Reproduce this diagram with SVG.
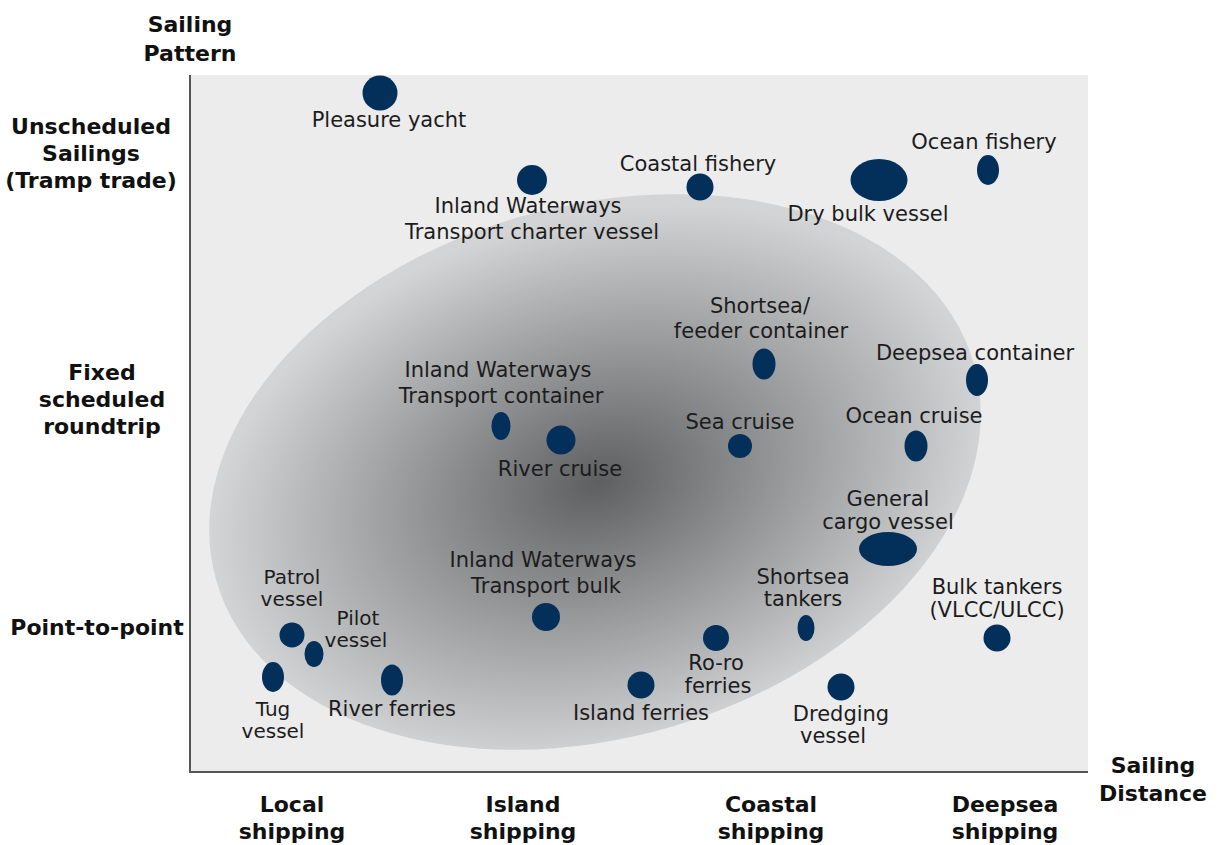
<svg xmlns="http://www.w3.org/2000/svg" width="1218" height="845" viewBox="0 0 1218 845">
<style>
.lbl{font-family:"DejaVu Sans","Liberation Sans",sans-serif;font-size:21px;fill:#1c1c1c;text-anchor:middle}
.sm{font-size:20px}
.ax{font-family:"DejaVu Sans","Liberation Sans",sans-serif;font-size:22px;font-weight:bold;fill:#111;text-anchor:middle}
.dot{fill:#02305a}
</style>
<defs>
<radialGradient id="g" cx="0.5" cy="0.52" r="0.5">
<stop offset="0" stop-color="#5e5f61"/>
<stop offset="0.5" stop-color="#999a9c"/>
<stop offset="1" stop-color="#d3d4d6"/>
</radialGradient>
</defs>
<rect width="1218" height="845" fill="#ffffff"/>
<rect id="plot" x="190" y="75" width="898" height="697" fill="#ececec"/>
<ellipse id="zone" cx="595" cy="472" rx="394" ry="266" transform="rotate(-16 595 472)" fill="url(#g)"/>
<g id="axes" stroke="#555" stroke-width="2" fill="none">
<line x1="190" y1="75" x2="190" y2="773"/>
<line x1="189" y1="772" x2="1088" y2="772"/>
</g>
<g id="axis-labels">
<text class="ax" x="190" y="32">Sailing</text>
<text class="ax" x="190" y="61">Pattern</text>
<text class="ax" x="91" y="134">Unscheduled</text>
<text class="ax" x="91" y="161">Sailings</text>
<text class="ax" x="91" y="188">(Tramp trade)</text>
<text class="ax" x="102" y="380">Fixed</text>
<text class="ax" x="102" y="407">scheduled</text>
<text class="ax" x="102" y="434">roundtrip</text>
<text class="ax" x="97" y="635">Point-to-point</text>
<text class="ax" x="1153" y="773">Sailing</text>
<text class="ax" x="1153" y="801">Distance</text>
<text class="ax" x="292" y="812">Local</text>
<text class="ax" x="292" y="839">shipping</text>
<text class="ax" x="523" y="812">Island</text>
<text class="ax" x="523" y="839">shipping</text>
<text class="ax" x="771" y="812">Coastal</text>
<text class="ax" x="771" y="839">shipping</text>
<text class="ax" x="1005" y="812">Deepsea</text>
<text class="ax" x="1005" y="839">shipping</text>
</g>
<g id="pleasure-yacht"><circle class="dot" cx="380" cy="93" r="17.5"/><text class="lbl" x="389" y="127">Pleasure yacht</text></g>
<g id="iwt-charter"><circle class="dot" cx="532" cy="180" r="15"/><text class="lbl" x="528" y="213">Inland Waterways</text><text class="lbl" x="532" y="239">Transport charter vessel</text></g>
<g id="coastal-fishery"><circle class="dot" cx="700" cy="187" r="13.5"/><text class="lbl" x="698" y="171">Coastal fishery</text></g>
<g id="dry-bulk"><ellipse class="dot" cx="879" cy="180" rx="28.5" ry="21"/><text class="lbl" x="868" y="221">Dry bulk vessel</text></g>
<g id="ocean-fishery"><ellipse class="dot" cx="988" cy="170" rx="11" ry="15"/><text class="lbl" x="984" y="149">Ocean fishery</text></g>
<g id="shortsea-feeder"><ellipse class="dot" cx="764" cy="364" rx="11.5" ry="15.5"/><text class="lbl" x="760" y="313">Shortsea/</text><text class="lbl" x="761" y="338">feeder container</text></g>
<g id="deepsea-container"><ellipse class="dot" cx="977" cy="380" rx="11" ry="16"/><text class="lbl" x="975" y="360">Deepsea container</text></g>
<g id="iwt-container"><ellipse class="dot" cx="501" cy="426" rx="9.5" ry="14"/><text class="lbl" x="498" y="377">Inland Waterways</text><text class="lbl" x="501" y="403">Transport container</text></g>
<g id="river-cruise"><circle class="dot" cx="561" cy="440" r="14.5"/><text class="lbl" x="560" y="476">River cruise</text></g>
<g id="sea-cruise"><circle class="dot" cx="740" cy="446" r="12"/><text class="lbl" x="740" y="429">Sea cruise</text></g>
<g id="ocean-cruise"><ellipse class="dot" cx="916" cy="446" rx="11.5" ry="15.5"/><text class="lbl" x="914" y="423">Ocean cruise</text></g>
<g id="general-cargo"><ellipse class="dot" cx="888" cy="549" rx="29" ry="17"/><text class="lbl" x="888" y="506">General</text><text class="lbl" x="888" y="529">cargo vessel</text></g>
<g id="iwt-bulk"><circle class="dot" cx="546" cy="617" r="14"/><text class="lbl" x="543" y="567">Inland Waterways</text><text class="lbl" x="546" y="593">Transport bulk</text></g>
<g id="shortsea-tankers"><ellipse class="dot" cx="806" cy="628" rx="8.5" ry="13"/><text class="lbl" x="803" y="584">Shortsea</text><text class="lbl" x="803" y="606">tankers</text></g>
<g id="bulk-tankers"><circle class="dot" cx="997" cy="638" r="13.5"/><text class="lbl" x="997" y="594">Bulk tankers</text><text class="lbl" x="997" y="617">(VLCC/ULCC)</text></g>
<g id="roro-ferries"><circle class="dot" cx="716" cy="638" r="13"/><text class="lbl" x="716" y="670">Ro-ro</text><text class="lbl" x="718" y="693">ferries</text></g>
<g id="island-ferries"><circle class="dot" cx="641" cy="685" r="13.5"/><text class="lbl" x="641" y="720">Island ferries</text></g>
<g id="dredging-vessel"><circle class="dot" cx="841" cy="687" r="13.5"/><text class="lbl" x="841" y="721">Dredging</text><text class="lbl" x="833" y="743">vessel</text></g>
<g id="patrol-vessel"><ellipse class="dot" cx="292" cy="635" rx="12.5" ry="12.5"/><text class="lbl sm" x="292" y="584">Patrol</text><text class="lbl sm" x="292" y="606">vessel</text></g>
<g id="pilot-vessel"><ellipse class="dot" cx="314" cy="654" rx="9.5" ry="13"/><text class="lbl sm" x="358" y="625">Pilot</text><text class="lbl sm" x="356" y="647">vessel</text></g>
<g id="tug-vessel"><ellipse class="dot" cx="273" cy="677" rx="11" ry="15"/><text class="lbl sm" x="273" y="716">Tug</text><text class="lbl sm" x="273" y="738">vessel</text></g>
<g id="river-ferries"><ellipse class="dot" cx="392" cy="680" rx="11" ry="15.5"/><text class="lbl" x="392" y="716">River ferries</text></g>
</svg>
